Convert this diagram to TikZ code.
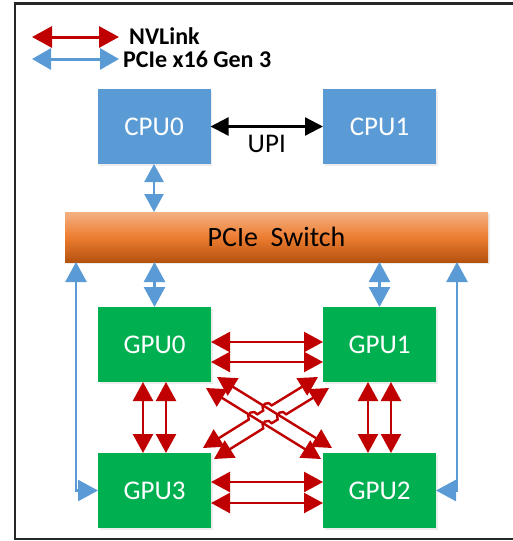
\documentclass[tikz,border=0pt]{standalone}
\usepackage{fontspec}
\setmainfont{Carlito}
\usetikzlibrary{arrows.meta,calc,shadows}
\definecolor{cpublue}{HTML}{5B9BD5}
\definecolor{gpugreen}{HTML}{00B050}
\definecolor{nvred}{HTML}{C00000}
\definecolor{orTop}{HTML}{F4B183}
\definecolor{orMid}{HTML}{ED7D31}
\definecolor{orBot}{HTML}{B4520F}
\begin{document}
\begin{tikzpicture}[x=1pt,y=1pt,
  box/.style={minimum width=113pt, minimum height=75pt, inner sep=0pt, outer sep=0pt,
    text=white, font=\fontsize{27}{30}\selectfont,
    drop shadow={opacity=0.15, shadow xshift=1.5pt, shadow yshift=-1.5pt}},
  cpubox/.style={box, fill=cpublue},
  gpubox/.style={box, fill=gpugreen},
  switchbox/.style={minimum width=423pt, minimum height=50pt, inner sep=0pt, outer sep=0pt,
    top color=orTop, bottom color=orBot, middle color=orMid,
    font=\fontsize{28}{30}\selectfont,
    drop shadow={opacity=0.15, shadow xshift=1.5pt, shadow yshift=-1.5pt}},
  redlink/.style={draw=nvred, line width=2.4pt, {Triangle[length=19pt,width=20pt]}-{Triangle[length=19pt,width=20pt]}},
  bluelink/.style={draw=cpublue, line width=2.6pt, {Triangle[length=20pt,width=21pt]}-{Triangle[length=20pt,width=21pt]}},
  cpulink/.style={draw=cpublue, line width=2.6pt, {Triangle[length=18pt,width=19pt]}-{Triangle[length=18pt,width=19pt]}},
  upilink/.style={draw=black, line width=2.3pt, {Triangle[length=18pt,width=18pt]}-{Triangle[length=18pt,width=18pt]}},
  legred/.style={draw=nvred, line width=3pt, {Triangle[length=20pt,width=21pt]}-{Triangle[length=20pt,width=21pt]}},
  legblue/.style={draw=cpublue, line width=3pt, {Triangle[length=19pt,width=21pt]}-{Triangle[length=19pt,width=21pt]}},
  legtext/.style={inner sep=0pt, anchor=west, font=\fontsize{24}{26}\selectfont\bfseries}
]
\useasboundingbox (0,0) rectangle (512,-541);
% frame
\draw[line width=2.2pt, black!85] (520,-3.5) -- (15,-3.5) -- (15,-539) -- (520,-539);

% legend
\coordinate (LR1) at (32,-37);
\coordinate (LR2) at (119,-37);
\coordinate (LB1) at (32,-59);
\coordinate (LB2) at (119,-59);
\draw[legred] (LR1) -- (LR2);
\draw[legblue] (LB1) -- (LB2);
\node[legtext] (lnv) at (129,-36) {NVLink};
\node[legtext] (lpc) at (123,-59) {PCIe x16 Gen 3};

% nodes
\node[cpubox] (CPU0) at (154,-126.5) {CPU0};
\node[cpubox] (CPU1) at (379.5,-126.5) {CPU1};
\node[switchbox] (SW) at (276.5,-237) {PCIe\ \ Switch};
\node[gpubox] (GPU0) at (154.5,-344.5) {GPU0};
\node[gpubox] (GPU1) at (379.5,-344.5) {GPU1};
\node[gpubox] (GPU3) at (154.5,-490.5) {GPU3};
\node[gpubox] (GPU2) at (379.5,-490.5) {GPU2};

% UPI
\draw[upilink] (CPU0.east) -- (CPU1.west)
  node[midway, below=8pt, inner sep=0pt, font=\fontsize{27}{30}\selectfont] (upi) {UPI};

% PCIe links
\draw[cpulink] (CPU0.south) -- (CPU0.south |- SW.north);
\draw[bluelink] (GPU0.north |- SW.south) -- (GPU0.north);
\draw[bluelink] (GPU1.north |- SW.south) -- (GPU1.north);
\coordinate (Lx) at (76,0);
\coordinate (Rx) at (457,0);
\draw[bluelink] (GPU3.west) -- (GPU3.west -| Lx) -- (Lx |- SW.south);
\draw[bluelink] (GPU2.east) -- (GPU2.east -| Rx) -- (Rx |- SW.south);

% NVLink vertical
\draw[redlink] ([xshift=-11.5pt]GPU0.south) -- ([xshift=-11.5pt]GPU3.north);
\draw[redlink] ([xshift=11.5pt]GPU0.south) -- ([xshift=11.5pt]GPU3.north);
\draw[redlink] ([xshift=-11.5pt]GPU1.south) -- ([xshift=-11.5pt]GPU2.north);
\draw[redlink] ([xshift=11.5pt]GPU1.south) -- ([xshift=11.5pt]GPU2.north);
% NVLink horizontal
\draw[redlink] ([yshift=2.5pt]GPU0.east) -- ([yshift=2.5pt]GPU1.west);
\draw[redlink] ([yshift=-17.5pt]GPU0.east) -- ([yshift=-17.5pt]GPU1.west);
\draw[redlink] ([yshift=8.5pt]GPU3.east) -- ([yshift=8.5pt]GPU2.west);
\draw[redlink] ([yshift=-12.5pt]GPU3.east) -- ([yshift=-12.5pt]GPU2.west);

% NVLink diagonals
\coordinate (A1) at (217,-377); \coordinate (A2) at (332,-448);
\coordinate (B1) at (206,-388); \coordinate (B2) at (321,-459);
\coordinate (C1) at (318,-377); \coordinate (C2) at (203,-448);
\coordinate (D1) at (329,-388); \coordinate (D2) at (214,-459);
\coordinate (PCA) at (267.5,-408.0);
\coordinate (PCB) at (253.05,-416.9);
\coordinate (PDA) at (281.95,-416.9);
\coordinate (PDB) at (267.5,-425.8);
\draw[redlink] (A1) -- (A2);
\draw[redlink] (B1) -- (B2);
\draw[redlink] (C1) -- ($(PCA)!5pt!(C1)$) arc[start angle=31.55, end angle=211.55, radius=5pt]
  -- ($(PCB)!5pt!(C1)$) arc[start angle=31.55, end angle=211.55, radius=5pt] -- (C2);
\draw[redlink] (D1) -- ($(PDA)!5pt!(D1)$) arc[start angle=31.55, end angle=211.55, radius=5pt]
  -- ($(PDB)!5pt!(D1)$) arc[start angle=31.55, end angle=211.55, radius=5pt] -- (D2);
\end{tikzpicture}
\end{document}
